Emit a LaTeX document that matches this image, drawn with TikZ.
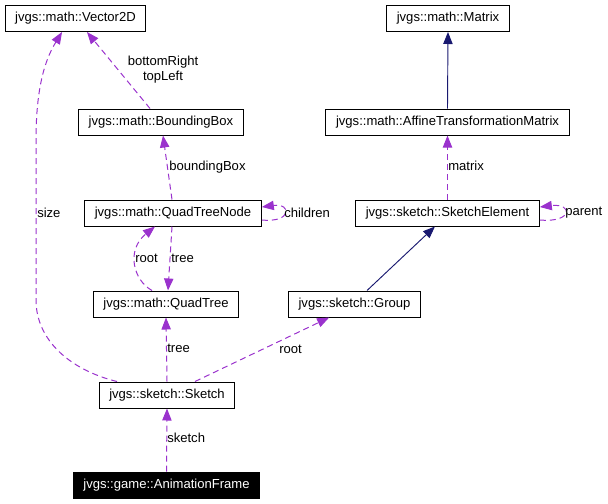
\documentclass[tikz,border=0pt]{standalone}
\usepackage{fontspec}
\setmainfont{Liberation Sans}
\usetikzlibrary{arrows.meta, positioning}
\definecolor{usagecol}{HTML}{9A32CD}
\definecolor{inhcol}{HTML}{191970}

\begin{document}
\begin{tikzpicture}[x=0.75pt, y=-0.75pt,
  cls/.style={draw=black, line width=0.75pt, fill=white, inner xsep=7.6pt, inner ysep=2pt, minimum height=19.5pt, font=\fontsize{9.8}{11.25}\selectfont},
  curcls/.style={cls, fill=black, text=white},
  lbl/.style={inner sep=0pt, anchor=west, font=\fontsize{9.8}{11.25}\selectfont},
  usage/.style={draw=usagecol, line width=0.75pt, dash pattern=on 4.5pt off 3pt, -{Triangle[length=9pt, width=7pt, fill=usagecol]}},
  inherit/.style={draw=inhcol, line width=0.7pt, -{Triangle[length=9pt, width=7pt, fill=inhcol]}}]
  \useasboundingbox (0,0) rectangle (608,504);

  \node[cls] (vec) at (75.5,18.5) {jvgs::math::Vector2D};
  \node[cls] (bbox) at (161,122) {jvgs::math::BoundingBox};
  \node[cls] (qtn) at (173,213) {jvgs::math::QuadTreeNode};
  \node[cls] (qt) at (166,304) {jvgs::math::QuadTree};
  \node[cls] (sketch) at (167,395) {jvgs::sketch::Sketch};
  \node[curcls] (frame) at (166.5,485) {jvgs::game::AnimationFrame};

  \node[cls] (mat) at (448,18.5) {jvgs::math::Matrix};
  \node[cls] (atm) at (447.5,122) {jvgs::math::AffineTransformationMatrix};
  \node[cls] (elem) at (447.5,213) {jvgs::sketch::SketchElement};
  \node[cls] (grp) at (354.5,304) {jvgs::sketch::Group};

  % inheritance
  \draw[inherit] (atm.north) -- (mat.south);
  \draw[inherit] ([xshift=9.4pt]grp.north) -- ([xshift=-9.4pt]elem.south);

  % usage
  \draw[usage] ([xshift=-37.5pt]sketch.north) .. controls (70,370) and (36,340) .. (36,300)
    -- (36,140) .. controls (36,80) and (48,55) .. ([xshift=-10.1pt]vec.south);
  \draw[usage] ([xshift=-8.25pt]bbox.north) -- ([xshift=8.6pt]vec.south);
  \draw[usage] ([xshift=-0.75pt]qtn.north) -- ([xshift=1.5pt]bbox.south);
  \draw[usage] ([yshift=-5.25pt]qtn.east) .. controls (292,223) and (292,203) .. ([yshift=4.5pt]qtn.east);
  \draw[usage] ([xshift=-0.75pt]qtn.south) -- ([xshift=1.5pt]qt.north);
  \draw[usage] ([xshift=-10.5pt]qt.north) .. controls (133,280) and (126,250) .. ([xshift=-13.5pt]qtn.south);
  \draw[usage] (sketch.north) -- (qt.south);
  \draw[usage] ([xshift=21pt]sketch.north) -- ([xshift=-19pt]grp.south);
  \draw[usage] (frame.north) -- (sketch.south);
  \draw[usage] (elem.north) -- (atm.south);
  \draw[usage] ([yshift=-5.25pt]elem.east) .. controls (573,223) and (573,203) .. ([yshift=4.5pt]elem.east);

  % labels
  \node[lbl] (lsize) at (37,213) {size};
  \node[lbl, anchor=center, align=center] (lcorner) at (163,69.5) {bottomRight\\topLeft};
  \node[lbl] (lbbox) at (169,167) {boundingBox};
  \node[lbl] (lchild) at (284,213) {children};
  \node[lbl] (lroot) at (135,258) {root};
  \node[lbl] (ltree) at (171,258) {tree};
  \node[lbl] (lstree) at (167,348) {tree};
  \node[lbl] (lsroot) at (279,349) {root};
  \node[lbl] (lsketch) at (167,438) {sketch};
  \node[lbl] (lmatrix) at (448,166) {matrix};
  \node[lbl] (lparent) at (565,213) {parent};
\end{tikzpicture}
\end{document}
